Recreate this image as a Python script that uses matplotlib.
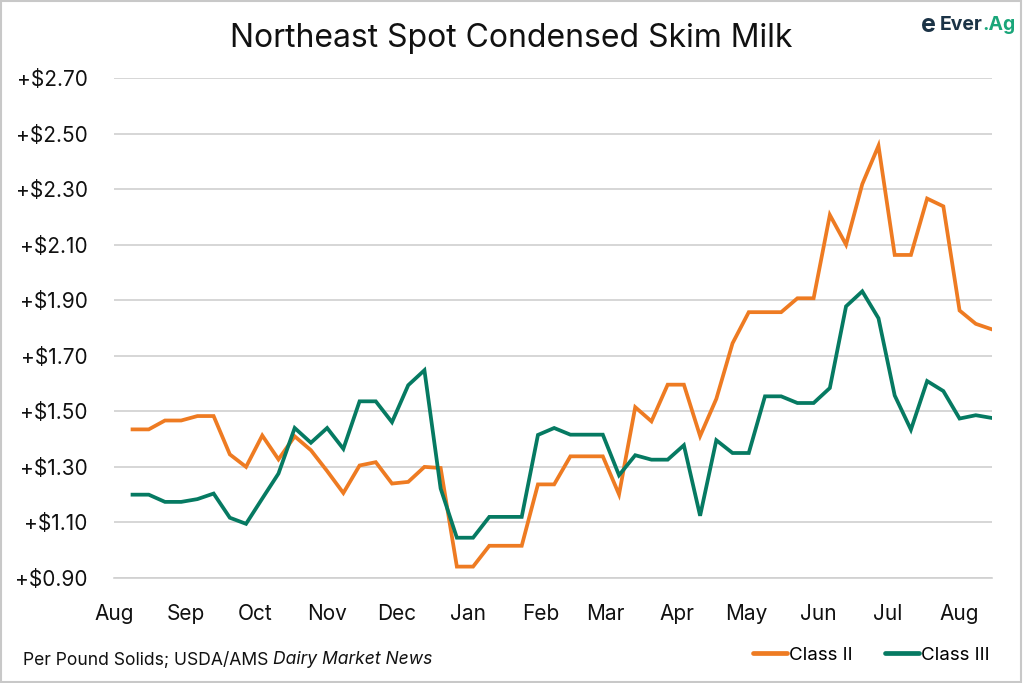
import matplotlib
matplotlib.use("Agg")
import matplotlib.pyplot as plt
import matplotlib.dates as mdates
from matplotlib.patches import Rectangle
import pandas as pd

plt.rcParams['font.family'] = ['Inter', 'DejaVu Sans']

start_date = "2024-08-09"
n_weeks = 54
class_ii = [1.435, 1.435, 1.467, 1.467, 1.483, 1.483, 1.345, 1.300, 1.413, 1.327,
            1.410, 1.360, 1.285, 1.206, 1.305, 1.317, 1.240, 1.246, 1.300, 1.296,
            0.941, 0.941, 1.016, 1.016, 1.016, 1.237, 1.237, 1.338, 1.338, 1.338,
            1.201, 1.515, 1.464, 1.596, 1.596, 1.411, 1.545, 1.745, 1.857, 1.857,
            1.857, 1.907, 1.907, 2.207, 2.100, 2.318, 2.456, 2.063, 2.063, 2.266,
            2.238, 1.863, 1.815, 1.795]
class_iii = [1.200, 1.200, 1.174, 1.174, 1.184, 1.204, 1.117, 1.095, 1.186, 1.276,
             1.440, 1.387, 1.440, 1.365, 1.536, 1.536, 1.461, 1.594, 1.648, 1.222,
             1.045, 1.045, 1.120, 1.120, 1.120, 1.415, 1.440, 1.416, 1.416, 1.416,
             1.270, 1.342, 1.326, 1.326, 1.378, 1.124, 1.396, 1.350, 1.350, 1.554,
             1.554, 1.530, 1.530, 1.584, 1.878, 1.932, 1.835, 1.557, 1.434, 1.609,
             1.573, 1.474, 1.486, 1.476]
y_ticks = [0.90, 1.10, 1.30, 1.50, 1.70, 1.90, 2.10, 2.30, 2.50, 2.70]
series_names = ["Class II", "Class III"]

dates = pd.date_range(start_date, periods=n_weeks, freq="7D")

W, H = 1023, 683
fig = plt.figure(figsize=(W / 100, H / 100), dpi=100)
ax = fig.add_axes([114 / W, 1 - 578 / H, (992 - 114) / W, (578 - 78) / H])

orange = "#EE7B22"
green = "#067A62"
ax.plot(dates, class_ii, color=orange, lw=2.7, label=series_names[0], solid_joinstyle="miter", zorder=3)
ax.plot(dates, class_iii, color=green, lw=2.7, label=series_names[1], solid_joinstyle="miter", zorder=3)

ax.set_ylim(0.90, 2.70)
ax.set_xlim(pd.Timestamp("2024-08-01"), pd.Timestamp("2025-08-15"))
ax.set_yticks(y_ticks)
ax.set_yticklabels([f"+${v:.2f}" for v in y_ticks])
ax.xaxis.set_major_locator(mdates.MonthLocator())
ax.xaxis.set_major_formatter(mdates.DateFormatter("%b"))
ax.grid(axis="y", color="#d0d0d0", lw=1.2)
ax.set_axisbelow(True)
for s in ["top", "right", "left"]:
    ax.spines[s].set_visible(False)
ax.spines["bottom"].set_color("#d0d0d0")
ax.spines["bottom"].set_linewidth(1.2)
ax.tick_params(axis="both", length=0, labelsize=15, colors="#111111")
ax.tick_params(axis="y", pad=19)
ax.tick_params(axis="x", pad=19)

fig.text(0.5, 1 - 38 / H, "Northeast Spot Condensed Skim Milk", ha="center", va="center",
         fontsize=23, color="#111111")

foot_fs = 12.6
t1 = fig.text(23 / W, 1 - 660 / H, "Per Pound Solids; USDA/AMS ", ha="left", va="center",
              fontsize=foot_fs, color="#111111")
fig.canvas.draw()
bb = t1.get_window_extent()
fig.text(bb.x1 / W, 1 - 660 / H, "Dairy Market News", ha="left", va="center",
         fontsize=foot_fs, color="#111111", style="italic")

leg = fig.legend(loc="center right", bbox_to_anchor=(997 / W, 1 - 655 / H), ncol=2,
                 frameon=False, fontsize=13.5, handlelength=1.8, handletextpad=0.12,
                 columnspacing=1.7, borderaxespad=0)
for line in leg.get_lines():
    line.set_linewidth(3.4)
    line.set_solid_capstyle("round")

# logo
fig.text(921 / W, 1 - 25 / H, "e", ha="left", va="center", fontsize=18, fontweight="bold",
         color="#1b3346")
t2 = fig.text(940 / W, 1 - 25 / H, "Ever", ha="left", va="center", fontsize=14, fontweight="bold",
              color="#1b3346")
fig.canvas.draw()
bb2 = t2.get_window_extent()
fig.text(bb2.x1 / W, 1 - 25 / H, ".Ag", ha="left", va="center", fontsize=14, fontweight="bold",
         color="#1aa67a")

fig.patches.append(Rectangle((0.001, 0.001), 0.997, 0.997, transform=fig.transFigure,
                             fill=False, edgecolor="#c8c8c8", lw=1.5))

fig.savefig("out.png", dpi=100, facecolor="white")
